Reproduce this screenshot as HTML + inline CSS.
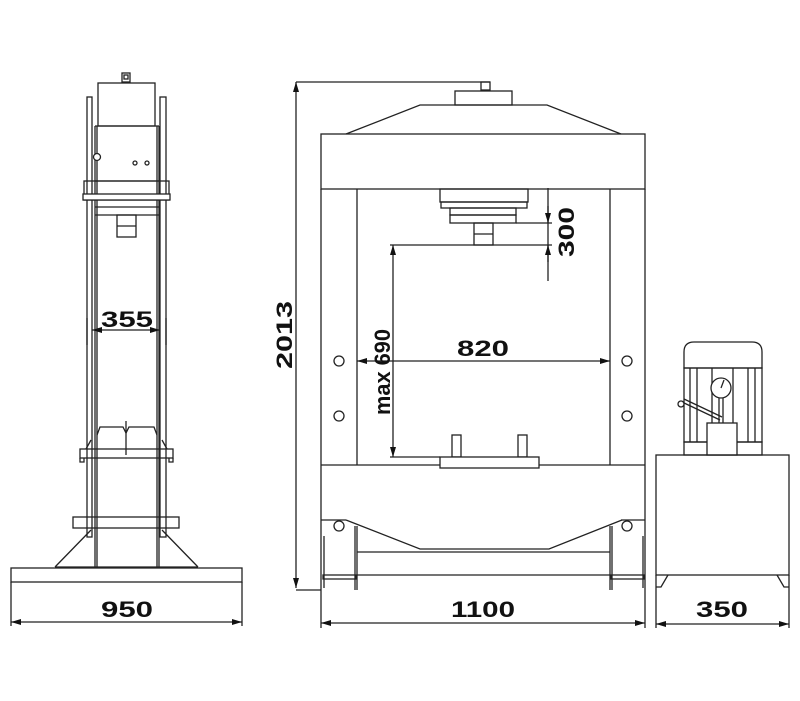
<!DOCTYPE html>
<html><head><meta charset="utf-8"><style>
html,body{margin:0;padding:0;background:#fff;}
svg{display:block;}
text{font-family:"Liberation Sans",sans-serif;font-weight:bold;fill:#111;}
</style></head><body>
<svg width="800" height="701" viewBox="0 0 800 701" xmlns="http://www.w3.org/2000/svg">
<defs>
<marker id="a" viewBox="0 0 10 6" refX="10" refY="3" markerWidth="10" markerHeight="6" orient="auto-start-reverse" markerUnits="userSpaceOnUse"><path d="M0,0 L10,3 L0,6 z" fill="#111"/></marker>
</defs>
<g fill="none" stroke="#222" stroke-width="1.3">
<!-- LEFT VIEW -->
<rect x="122" y="73" width="8" height="9"/><rect x="124" y="75" width="4" height="4"/>
<rect x="98" y="83" width="57" height="43"/>
<rect x="87" y="97" width="5" height="440"/>
<rect x="160" y="97" width="6" height="440"/>
<line x1="95" y1="126" x2="95" y2="567"/><line x1="97" y1="126" x2="97" y2="567"/>
<line x1="157" y1="126" x2="157" y2="567"/><line x1="159" y1="126" x2="159" y2="567"/>
<line x1="95" y1="126" x2="159" y2="126"/>
<circle cx="97" cy="157" r="3.5" fill="#fff"/>
<circle cx="135" cy="163" r="2"/><circle cx="147" cy="163" r="2"/>
<rect x="84" y="181" width="85" height="19"/>
<rect x="83" y="194" width="87" height="6" fill="#fff"/>
<line x1="95" y1="181" x2="159" y2="181"/>
<line x1="95" y1="207" x2="159" y2="207"/>
<line x1="95" y1="215" x2="159" y2="215"/>
<rect x="117" y="215" width="19" height="22"/><line x1="117" y1="226" x2="136" y2="226"/>
<path d="M97,435 L100,427 L123,427 L126,433 L129,427 L154,427 L157,435"/>
<line x1="126" y1="421" x2="126" y2="455"/>
<path d="M91,440 L86,449 M162,440 L167,449"/>
<rect x="80" y="449" width="93" height="9"/>
<path d="M80,458 V462 H84 V458 M169,458 V462 H173 V458"/>
<rect x="73" y="517" width="106" height="11"/>
<path d="M91,530 L55,567 M162,530 L198,567"/>
<line x1="55" y1="567" x2="198" y2="567"/>
<rect x="11" y="568" width="231" height="14"/>
<!-- 355 dim -->
<line x1="87" y1="318" x2="87" y2="345"/><line x1="166" y1="318" x2="166" y2="345"/>
<line x1="92" y1="330" x2="160" y2="330" marker-start="url(#a)" marker-end="url(#a)"/>
<!-- 950 dim -->
<line x1="11" y1="582" x2="11" y2="626"/><line x1="242" y1="582" x2="242" y2="626"/>
<line x1="11" y1="622" x2="242" y2="622" marker-start="url(#a)" marker-end="url(#a)"/>

<!-- MIDDLE VIEW -->
<line x1="296" y1="82" x2="490" y2="82"/>
<rect x="481" y="82" width="9" height="8"/>
<line x1="296" y1="82" x2="296" y2="588" marker-start="url(#a)" marker-end="url(#a)"/>
<line x1="296" y1="590" x2="321" y2="590"/>
<rect x="455" y="91" width="57" height="14"/>
<path d="M346,134 L420,105 L547,105 L621,134"/>
<rect x="321" y="134" width="324" height="55"/>
<line x1="321" y1="189" x2="321" y2="628"/><line x1="645" y1="189" x2="645" y2="628"/>
<line x1="357" y1="189" x2="357" y2="465"/><line x1="610" y1="189" x2="610" y2="465"/>
<rect x="440" y="189" width="88" height="13"/>
<rect x="441" y="202" width="86" height="6"/>
<rect x="450" y="208" width="66" height="7"/>
<rect x="450" y="215" width="66" height="8"/>
<rect x="474" y="223" width="19" height="22"/><line x1="474" y1="234" x2="493" y2="234"/>
<!-- 300 -->
<line x1="548" y1="188" x2="548" y2="281"/>
<line x1="516" y1="223" x2="552" y2="223"/>
<line x1="390" y1="245" x2="552" y2="245"/>
<line x1="548" y1="206" x2="548" y2="223" marker-end="url(#a)"/>
<line x1="548" y1="262" x2="548" y2="245" marker-end="url(#a)"/>
<!-- max 690 -->
<line x1="393" y1="245" x2="393" y2="457" marker-start="url(#a)" marker-end="url(#a)"/>
<line x1="390" y1="457" x2="440" y2="457"/>
<!-- 820 -->
<line x1="357" y1="361" x2="610" y2="361" marker-start="url(#a)" marker-end="url(#a)"/>
<circle cx="339" cy="361" r="5"/><circle cx="339" cy="416" r="5"/>
<circle cx="627" cy="361" r="5"/><circle cx="627" cy="416" r="5"/>
<rect x="452" y="435" width="9" height="22"/><rect x="518" y="435" width="9" height="22"/>
<line x1="321" y1="465" x2="645" y2="465"/>
<rect x="440" y="457" width="99" height="11" fill="#fff"/>
<line x1="321" y1="520" x2="346" y2="520"/><line x1="621" y1="520" x2="645" y2="520"/>
<path d="M346,520 L420,549 L549,549 L622,520"/>
<circle cx="339" cy="526" r="5"/><circle cx="627" cy="526" r="5"/>
<line x1="357" y1="552" x2="610" y2="552"/><line x1="357" y1="575" x2="610" y2="575"/>
<line x1="355" y1="526" x2="355" y2="590"/><line x1="357" y1="526" x2="357" y2="590"/>
<line x1="610" y1="526" x2="610" y2="590"/><line x1="612" y1="526" x2="612" y2="590"/>
<path d="M324,536 V588 M643,536 V588"/>
<rect x="323" y="575" width="33" height="4"/><rect x="611" y="575" width="33" height="4"/>
<!-- 1100 -->
<line x1="321" y1="623" x2="645" y2="623" marker-start="url(#a)" marker-end="url(#a)"/>

<!-- RIGHT VIEW -->
<path d="M684,368 V352 Q684,342 694,342 H752 Q762,342 762,352 V368 Z"/>
<rect x="684" y="368" width="78" height="74"/>
<path d="M690,368 V442 M697,368 V442 M712,368 V442 M733,368 V442 M748,368 V442 M755,368 V442"/>
<rect x="684" y="442" width="78" height="13"/>
<circle cx="721" cy="388" r="10" fill="#fff"/>
<line x1="721" y1="388" x2="724" y2="380"/>
<line x1="719" y1="398" x2="719" y2="423"/><line x1="723" y1="398" x2="723" y2="423"/>
<path d="M682,402 L720,420 M684,399 L722,417"/>
<circle cx="681" cy="404" r="3" fill="#fff"/>
<rect x="707" y="423" width="30" height="32" fill="#fff"/>
<rect x="656" y="455" width="133" height="120"/>
<path d="M656,575 V628 M789,575 V628"/>
<path d="M668,575 L661,587 L656,587 M777,575 L784,587 L789,587"/>
<line x1="656" y1="624" x2="789" y2="624" marker-start="url(#a)" marker-end="url(#a)"/>
</g>
<g font-size="22">
<text x="127" y="327" text-anchor="middle" textLength="52" lengthAdjust="spacingAndGlyphs">355</text>
<text x="127" y="617" text-anchor="middle" textLength="52" lengthAdjust="spacingAndGlyphs">950</text>
<text x="483" y="356" text-anchor="middle" textLength="52" lengthAdjust="spacingAndGlyphs">820</text>
<text x="483" y="617" text-anchor="middle" textLength="64" lengthAdjust="spacingAndGlyphs">1100</text>
<text x="722" y="617" text-anchor="middle" textLength="52" lengthAdjust="spacingAndGlyphs">350</text>
<text transform="translate(292,335) rotate(-90)" text-anchor="middle" textLength="68" lengthAdjust="spacingAndGlyphs">2013</text>
<text transform="translate(574,232) rotate(-90)" text-anchor="middle" textLength="50" lengthAdjust="spacingAndGlyphs">300</text>
<text transform="translate(390,372) rotate(-90)" text-anchor="middle" textLength="86" lengthAdjust="spacingAndGlyphs">max 690</text>
</g>
</svg>
</body></html>
